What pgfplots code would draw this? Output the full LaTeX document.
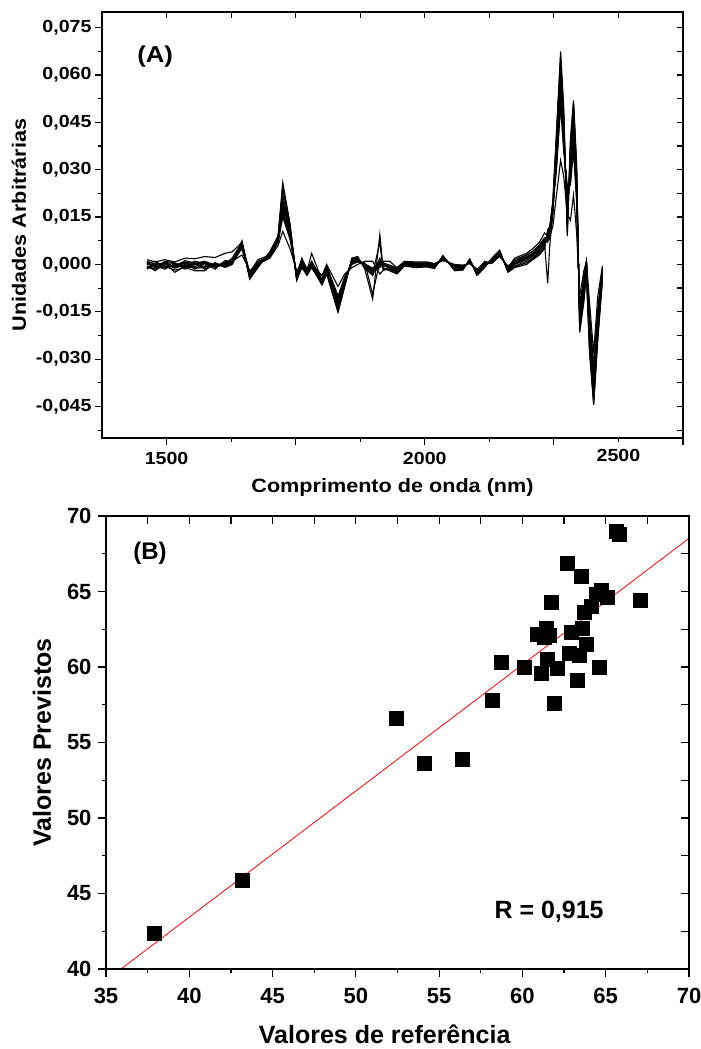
\documentclass[border=0pt]{standalone}
\usepackage{fontspec}
\setmainfont{Liberation Sans}
\newfontfamily\fA[FakeStretch=1.12]{Liberation Sans}
\usepackage{pgfplots}
\usepackage{pgfplotstable}
\pgfplotsset{compat=1.18}

\pgfplotstableread{
x A B C D E F G H I J K L
1462 0.5 1.5 -0.5 0 -1.5 0.8 -0.8 0.3 -1 1 -1 0.3
1478 -0.5 0.8 -2 -0.5 0.5 -1 -1.5 1 -1.2 0 -0.3 -0.8
1497 0.8 1.5 0.3 -1.5 -0.5 0.2 1 -0.8 -0.6 -1 0.5 0.6
1516 -1 0.8 -2.5 0.3 -0.3 -1.2 0.5 -0.5 -1.8 0 -0.8 0.3
1536 0.5 2 -0.5 -1.5 0.5 0 -1 1.2 -1 -0.5 0.8 -0.5
1555 -1.5 1.8 0.5 0 -1 1 -2 0.4 0.3 -0.6 0.2 -1.2
1574 0.4 2.5 -1.5 0.8 -0.5 0.2 -2 1 -0.8 0.3 0.5 -1
1594 -0.5 2.2 0 -1 0.3 -1.5 0.6 -0.2 -0.5 -0.4 -0.6 0.2
1613 0.5 3.5 -0.8 0.6 -0.5 1.2 -1 0.2 -0.2 0 0.8 -0.4
1627 1 4 0 1.5 0.5 1 0 2 0.8 1 0.7 0.5
1646 3 7 7.5 6.5 6 5 5.5 7 7 6.2 5.5 5.2
1661 -2 -2.5 -4.7 -4 -3.5 -3 -2.8 -4.3 -4.4 -3.8 -3.2 -2.9
1677 0 1.5 -1 0 -0.5 0.5 1 -0.5 -0.5 -0.2 0 0.7
1700 2 3 4 3.5 3 2.5 2.5 3.8 3.9 3.2 2.8 2.5
1716 6 8 9 8.5 8 7.5 7 9 8.8 8.2 7.8 7.2
1725 10.5 19 26 22 19 17 15 24 25 20.5 18 16
1739 5 10 13 11 10 9 8 12 12.5 10.5 9.5 8.5
1752 -2 -4 -5 -4.5 -4 -3.5 -3 -5 -4.8 -4.2 -3.8 -3.2
1762 0 1 -1 0 0 0.5 2 -0.5 -0.8 0 0.3 1
1772 -1 -2 -3.5 -3 -2.5 -2 -1.5 -3 -3.2 -2.8 -2.2 -1.8
1781 0 3.5 -1 0 0.5 1 0 -0.5 -0.8 0.2 0.8 0.5
1801 -3.5 -5 -6.5 -6 -5.5 -5 -4.5 -6.2 -6.3 -5.8 -5.2 -4.8
1810 0 -1 -3 -2 -1.5 -1 -0.5 -2.5 -2.8 -1.8 -1.2 -0.8
1832 -7 -11 -15.2 -13.5 -12 -11 -10 -14.5 -14.8 -12.8 -11.5 -10.5
1845 -3 -5 -7 -6 -5 -4.5 -4 -6.5 -6.8 -5.5 -4.8 -4.2
1859 -1 1 2 1.5 1 0.5 0 2 1.8 1.2 0.8 0.3
1870 0 1.5 2.5 2 1.5 1 0.8 2.2 2.3 1.8 1.2 0.9
1884 1 -0.3 -1.5 -0.5 -0.3 0 0.5 -1 -1.2 -0.4 -0.1 0.2
1899 1 -2 -11 -2.5 -2 -1.5 -9.5 -3 -3.5 -2.2 -1.8 -1.2
1913 -3 0 9.5 -1 0 0.5 1 7 2 -0.5 0.3 0.8
1919 -2 0 -1 0 0.5 -0.5 1 -1.5 -1.2 0.2 0 0.5
1932 -1 -1 -2 -1.5 -1 -0.5 1 -1.8 -1.9 -1.2 -0.8 -0.2
1946 -1 -2 -3 -2.5 -2 -1.5 -1 -2.8 -2.9 -2.2 -1.8 -1.2
1961 0.5 0.3 -0.5 0 0.3 0.6 1 0 -0.2 0.1 0.5 0.8
1981 0.5 0 -1 -0.5 0 0.3 0.8 -0.3 -0.7 -0.2 0.2 0.5
2004 0.5 0 -0.8 -0.3 0 0.3 0.8 -0.5 -0.6 -0.2 0.2 0.5
2019 0 -0.5 -1.3 -0.8 -0.5 -0.2 0.3 -1 -1.2 -0.6 -0.3 0
2035 1.2 2 2.8 2.4 2 1.7 1.5 2.6 2.7 2.2 1.8 1.6
2058 0 -1 -2 -1.5 -1 -0.7 -0.3 -1.8 -1.9 -1.2 -0.8 -0.5
2074 -0.2 -1 -1.8 -1.3 -1 -0.7 -0.5 -1.5 -1.6 -1.2 -0.8 -0.6
2087 0.2 1 1.8 1.4 1 0.7 0.5 1.5 1.6 1.2 0.8 0.6
2101 -1.5 -2.5 -3.5 -3 -2.5 -2 -1.8 -3.2 -3.3 -2.8 -2.2 -1.9
2116 0 0 -1 -0.5 0 0.3 1 -0.7 -0.8 -0.2 0.2 0.6
2130 0.5 1 2 1.5 1 0.7 0.3 1.8 1.9 1.2 0.8 0.5
2145 2.5 3.5 4.5 4 3.5 3 3 4.2 4.3 3.8 3.2 3
2161 -0.5 -1.5 -2.5 -2 -1.5 -1 -1 -2.2 -2.3 -1.8 -1.2 -1
2174 1 0.5 -1 0 0.5 1 2 -0.5 -0.8 0.2 0.8 1.5
2197 3 2 0 1.5 2 2.5 3.5 1 0.5 1.8 2.2 3
2209 4 3 1.5 2.5 3 3.5 5 2 1.8 2.8 3.2 4.2
2222 6 5 3 4.5 5 5.5 7 4 3.5 4.8 5.2 6.2
2232 8 7 5 6.5 7 7.5 10 6 5.5 6.8 7.2 8.5
2238 8 8 11 -6 8 7 9 10 10.5 8.5 7.5 8
2242 9 10 12 6 9 10 11 11 11.5 8 9.5 10.5
2248 12 17 20 16 17 18 19 19 20 16.5 17.5 18.5
2255 22 35 42 38 35 32 30 40 41 37 33.5 31
2263 33 55 67.5 62 58 54 50 65 66 60 56 52
2269 28 40 50 45 40 38 36 47 48 43 39 37
2276 16 20 9 14 18 22 25 11 10 16 20 23.5
2282 14 30 40 35 30 28 25 37 38 33 29 26.5
2288 22 44 52 48 44 40 36 50 51 46 42 38
2294 10 25 32 28 25 22 20 30 31 27 23.5 21
2300 -10 -17 -21.5 -19 -17 -15 -13 -20.5 -21 -18 -16 -14
2308 -2 -6 -12 -8 -6 -5 -4 -10 -11 -7 -5.5 -4.5
2313 1 0 -3 -1 0 0.5 1 -2 -2.5 -0.5 0.2 0.8
2319 -12 -20 -28 -24 -20 -18 -16 -26 -27 -22 -19 -17
2327 -28 -38 -44.5 -41 -38 -35 -32 -43 -44 -40 -36.5 -33.5
2335 -10 -18 -24 -21 -18 -16 -14 -22 -23 -19.5 -17 -15
2344 -0.5 -2 -5 -3 -2 -1.5 -1 -4 -4.5 -2.5 -1.8 -1.2
}\specA

\begin{document}
\begin{tikzpicture}
\useasboundingbox (0bp,0bp) rectangle (701bp,1049bp);
% ---------------- Panel A ----------------
\begin{axis}[
  at={(102bp,611bp)}, anchor=south west, scale only axis,
  width=581bp, height=426bp,
  xmin=1375, xmax=2500, ymin=-55, ymax=80,
  axis line style={line width=1.6bp},
  every tick/.style={line width=1.2bp, black},
  major tick length=7bp, minor tick length=4bp,
  tick align=outside, xtick pos=left, ytick pos=left,
  xtick={1500,1750,2000,2250,2500},
  xticklabels={1500,,2000,,},
  minor xtick={1625,1875,2125},
  extra x ticks={2375}, extra x tick labels={2500},
  extra x tick style={major tick length=4bp},
  ytick={-45,-30,...,75},
  yticklabels={{-0,045},{-0,030},{-0,015},{0,000},{0,015},{0,030},{0,045},{0,060},{0,075}},
  minor ytick={-52.5,-37.5,...,67.5},
  tick label style={font=\fA\bfseries\fontsize{17.5bp}{19bp}\selectfont},
  xticklabel style={yshift=-4bp},
  xlabel={Comprimento de onda (nm)},
  ylabel={Unidades Arbitrárias},
  every axis x label/.style={at={(axis description cs:0.5,-0.1174)}, anchor=center, font=\fA\bfseries\fontsize{19.3bp}{21bp}\selectfont},
  every axis y label/.style={at={(axis description cs:-0.1429,0.5)}, anchor=center, rotate=90, font=\fA\bfseries\fontsize{19.3bp}{21bp}\selectfont},
]
\addplot[black, line width=1.1bp] table[x=x,y=A]{\specA};
\addplot[black, line width=1.1bp] table[x=x,y=B]{\specA};
\addplot[black, line width=1.1bp] table[x=x,y=C]{\specA};
\addplot[black, line width=1.1bp] table[x=x,y=D]{\specA};
\addplot[black, line width=1.1bp] table[x=x,y=E]{\specA};
\addplot[black, line width=1.1bp] table[x=x,y=F]{\specA};
\addplot[black, line width=1.1bp] table[x=x,y=G]{\specA};
\addplot[black, line width=1.1bp] table[x=x,y=H]{\specA};
\addplot[black, line width=1.1bp] table[x=x,y=I]{\specA};
\addplot[black, line width=1.1bp] table[x=x,y=J]{\specA};
\addplot[black, line width=1.1bp] table[x=x,y=K]{\specA};
\addplot[black, line width=1.1bp] table[x=x,y=L]{\specA};
\node[font=\fA\bfseries\fontsize{23bp}{25bp}\selectfont] at (axis cs:1478,65.8) {(A)};
\end{axis}
\begin{axis}[
  at={(102bp,611bp)}, anchor=south west, scale only axis,
  width=581bp, height=426bp,
  xmin=1375, xmax=2500, ymin=-55, ymax=80,
  axis line style={line width=1.6bp},
  every tick/.style={line width=1.2bp, black},
  major tick length=6bp,
  tick align=inside, xtick pos=right, ytick pos=right,
  xtick={1375,1500,...,2500}, ytick={-52.5,-45,...,75},
  xticklabels={}, yticklabels={},
]
\end{axis}
% ---------------- Panel B ----------------
\begin{axis}[
  at={(106bp,80bp)}, anchor=south west, scale only axis,
  width=583bp, height=453bp,
  xmin=35, xmax=70, ymin=40, ymax=70,
  axis line style={line width=1.6bp},
  every tick/.style={line width=1.2bp, black},
  major tick length=8bp, minor tick length=4bp,
  tick align=outside, xtick pos=left, ytick pos=left,
  xtick={35,40,...,70}, ytick={40,45,...,70}, minor tick num=1,
  /pgf/number format/assume math mode=true,
  tick label style={font=\bfseries\fontsize{22bp}{24bp}\selectfont},
  xticklabel style={yshift=-8bp},
  yticklabel style={xshift=-3bp},
  xlabel={Valores de referência},
  ylabel={Valores Previstos},
  every axis x label/.style={at={(axis description cs:0.478,-0.1445)}, anchor=center, font=\bfseries\fontsize{25bp}{27bp}\selectfont},
  every axis y label/.style={at={(axis description cs:-0.1098,0.5)}, anchor=center, rotate=90, font=\bfseries\fontsize{25bp}{27bp}\selectfont},
]
\addplot[red, line width=0.8bp, no marks] coordinates {(35.9,40) (70,68.52)};
\addplot[only marks, mark=square*, mark size=7bp, black] coordinates {
(65.6,69.0) (65.8,68.8) (62.7,66.9) (63.5,66.0) (64.7,65.1) (64.4,64.8)
(65.1,64.6) (67.1,64.4) (61.7,64.3) (64.1,64.0) (63.7,63.6) (61.4,62.6)
(60.9,62.2) (61.6,62.1) (61.3,62.0) (62.9,62.3) (63.6,62.6) (63.8,61.5)
(62.8,60.9) (63.4,60.8) (61.5,60.5) (58.7,60.3) (60.1,60.0) (62.1,59.9)
(61.1,59.6) (64.6,60.0) (63.3,59.1) (58.2,57.8) (61.9,57.6) (52.4,56.6)
(54.1,53.6) (56.4,53.9) (43.2,45.9) (37.9,42.4)
};
\node[font=\bfseries\fontsize{25bp}{27bp}\selectfont] at (axis cs:61.6,43.8) {R = 0,915};
\node[font=\bfseries\fontsize{24bp}{26bp}\selectfont] at (axis cs:37.64,67.55) {(B)};
\end{axis}
\begin{axis}[
  at={(106bp,80bp)}, anchor=south west, scale only axis,
  width=583bp, height=453bp,
  xmin=35, xmax=70, ymin=40, ymax=70,
  axis line style={line width=1.6bp},
  every tick/.style={line width=1.2bp, black},
  major tick length=8bp,
  tick align=inside, xtick pos=right, ytick pos=right,
  xtick={35,37.5,...,70}, ytick={40,42.5,...,70},
  xticklabels={}, yticklabels={},
]
\end{axis}
\end{tikzpicture}
\end{document}
